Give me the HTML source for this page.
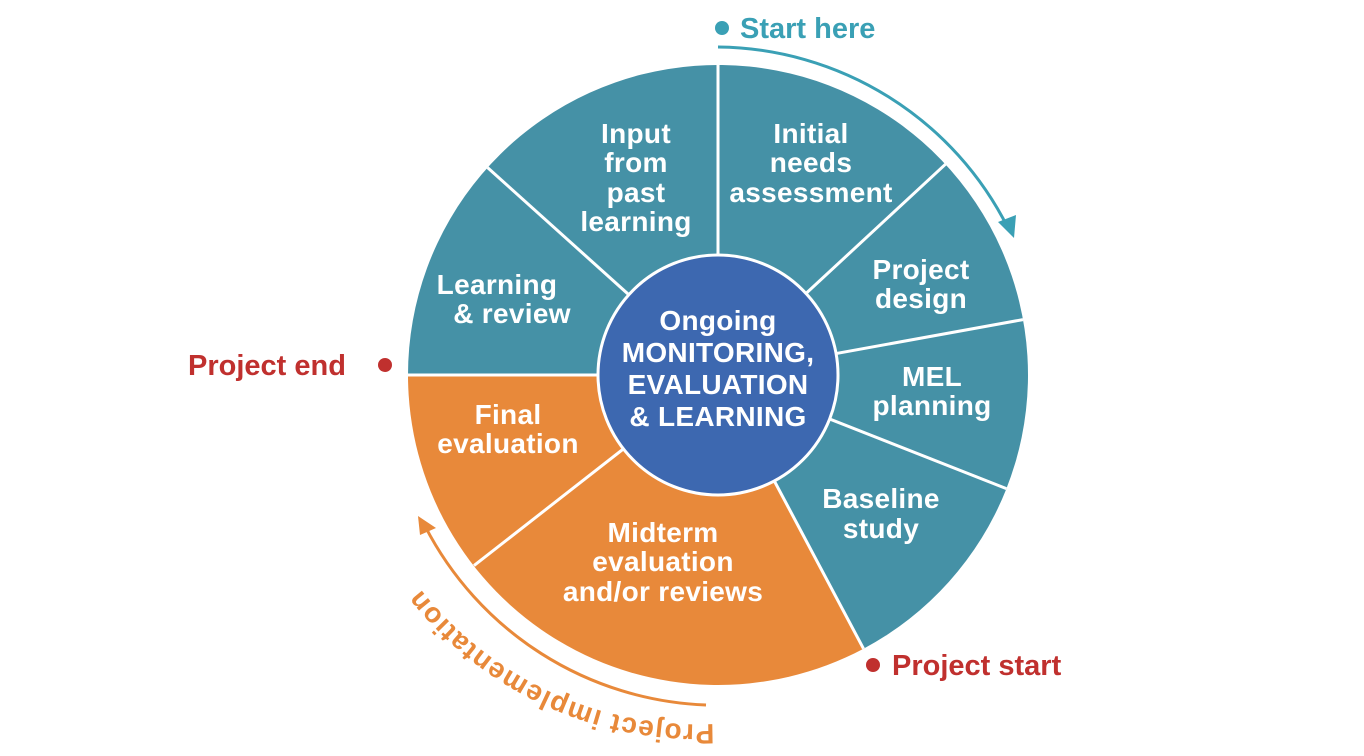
<!DOCTYPE html>
<html><head><meta charset="utf-8"><style>
html,body{margin:0;padding:0;background:#fff;}
svg{display:block;}
text{font-family:"Liberation Sans","DejaVu Sans",sans-serif;font-weight:bold;}
</style></head><body>
<svg width="1364" height="756" viewBox="0 0 1364 756" xmlns="http://www.w3.org/2000/svg">
<defs>
<path id="ip" d="M 714 724 A 352 352 0 0 1 372 505"/>
</defs>
<g transform="translate(718,375)">
  <path d="M0 0 L -310 0 A 310 310 0 1 1 145.5 273.7 Z" fill="#4591a6"/>
  <path d="M0 0 L 145.5 273.7 A 310 310 0 0 1 -310 0 Z" fill="#e8893a"/>
  <g stroke="#fff" stroke-width="3">
    <line x1="0" y1="0" x2="0" y2="-312"/>
    <line x1="0" y1="0" x2="227.5" y2="-210.8"/>
    <line x1="0" y1="0" x2="305" y2="-55.4"/>
    <line x1="0" y1="0" x2="288.4" y2="113.6"/>
    <line x1="0" y1="0" x2="145.5" y2="273.7"/>
    <line x1="0" y1="0" x2="-244" y2="190.6"/>
    <line x1="0" y1="0" x2="-312" y2="0"/>
    <line x1="0" y1="0" x2="-230.4" y2="-207.4"/>
  </g>
  <circle r="120" fill="#3d68b0" stroke="#fff" stroke-width="3"/>
</g>
<g fill="#fff" font-size="28" text-anchor="middle" letter-spacing="0.3">
  <text x="718" y="330">Ongoing</text>
  <text x="718" y="362">MONITORING,</text>
  <text x="718" y="394">EVALUATION</text>
  <text x="718" y="426">&amp; LEARNING</text>
  <text x="636" y="143">Input</text>
  <text x="636" y="172">from</text>
  <text x="636" y="202">past</text>
  <text x="636" y="231">learning</text>
  <text x="811" y="143">Initial</text>
  <text x="811" y="172">needs</text>
  <text x="811" y="202">assessment</text>
  <text x="921" y="279">Project</text>
  <text x="921" y="308">design</text>
  <text x="932" y="386">MEL</text>
  <text x="932" y="415">planning</text>
  <text x="881" y="508">Baseline</text>
  <text x="881" y="538">study</text>
  <text x="663" y="542">Midterm</text>
  <text x="663" y="571">evaluation</text>
  <text x="663" y="601">and/or reviews</text>
  <text x="508" y="424">Final</text>
  <text x="508" y="453">evaluation</text>
  <text x="497" y="294">Learning</text>
  <text x="512" y="323">&amp; review</text>
</g>
<circle cx="722" cy="28" r="7" fill="#3aa0b5"/>
<text x="740" y="38" font-size="29" fill="#3aa0b5">Start here</text>
<path d="M 718 47 A 328 328 0 0 1 1008 228" fill="none" stroke="#3aa0b5" stroke-width="3"/>
<path d="M 1014 238 L 998 222 L 1016 215 Z" fill="#3aa0b5"/>
<text x="188" y="375" font-size="29" fill="#c0302e">Project end</text>
<circle cx="385" cy="365" r="7" fill="#c0302e"/>
<circle cx="873" cy="665" r="7" fill="#c0302e"/>
<text x="892" y="675" font-size="29" fill="#c0302e">Project start</text>
<path d="M 706 705 A 330 330 0 0 1 425 526" fill="none" stroke="#e8893a" stroke-width="3"/>
<path d="M 418 516 L 436 528 L 420 535 Z" fill="#e8893a"/>
<text font-size="28" fill="#e8893a" letter-spacing="1.2"><textPath href="#ip" startOffset="0">Project implementation</textPath></text>
</svg>
</body></html>
